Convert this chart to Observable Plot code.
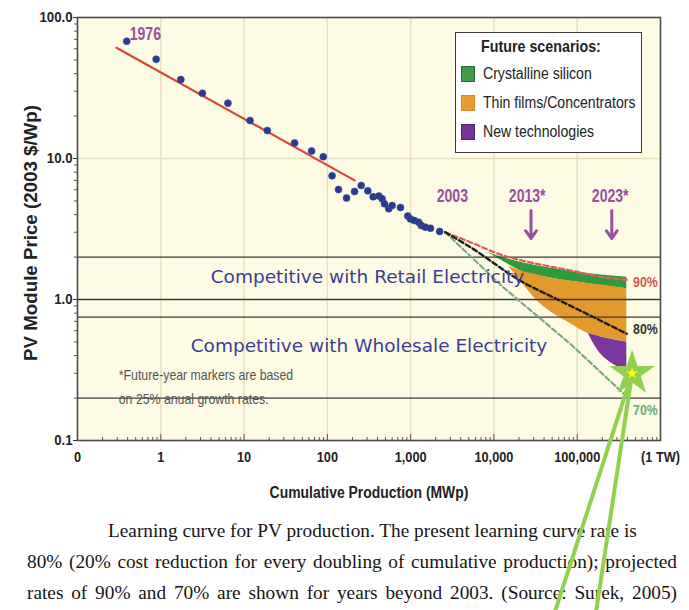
<!DOCTYPE html>
<html>
<head>
<meta charset="utf-8">
<script src="https://cdn.jsdelivr.net/npm/d3@7"></script>
<script src="https://cdn.jsdelivr.net/npm/@observablehq/plot@0.6"></script>
<style>
  html, body { margin: 0; padding: 0; background: #ffffff; }
  body { width: 689px; height: 610px; position: relative; overflow: hidden; }
  #chart { position: absolute; left: 0; top: 0; z-index: 2; }
  #chart svg { overflow: visible; }
  #legend { position: absolute; left: 455px; top: 32px; width: 187px; height: 121px; box-sizing: border-box;
            border: 1.6px solid #3c3c3c; background: #fff; z-index: 3;
            font-family: 'Liberation Sans Narrow', 'Arial Narrow', 'Liberation Sans', Arial, sans-serif; color: #222; }
  #legend .cond { display: inline-block; transform-origin: left center; white-space: nowrap; }
  #caption { position: absolute; left: 27px; top: 515px; width: 650px; z-index: 1;
             font-family: 'Liberation Serif', 'Times New Roman', serif; font-size: 19.3px; line-height: 31px; color: #151515; }
  #caption .l1 { padding-left: 81px; white-space: nowrap; }
  #caption .lj { text-align: justify; text-align-last: justify; }
</style>
</head>
<body>
<div id="chart"></div>
<div id="legend"></div>
<div id="caption"></div>
<script>
// ---------- data ----------
const xTicks = [0.1, 1, 10, 100, 1000, 10000, 100000, 1000000];
const xTickLabels = ["0", "1", "10", "100", "1,000", "10,000", "100,000", "(1 TW)"];
const yTicks = [0.1, 1, 10, 100];
const yTickLabels = ["0.1", "1.0", "10.0", "100.0"];
const gridDecadesX = [1, 10, 100, 1000, 10000, 100000];
const gridDecadesY = [10];

// historical module prices (cumulative MWp, 2003 $/Wp)
const histX = [0.39, 0.88, 1.74, 3.16, 6.4, 11.8, 19.0, 40.4, 64.7, 89.3, 114, 136, 170, 212, 255, 306, 355, 415, 455, 485, 546, 600, 755, 923, 995, 1110, 1250, 1340, 1500, 1730, 2230];
const histY = [67.9, 50.6, 36.3, 29.0, 24.7, 18.6, 15.8, 12.9, 11.3, 10.3, 7.54, 6.03, 5.25, 5.83, 6.44, 5.90, 5.35, 5.42, 5.18, 4.77, 4.40, 4.64, 4.49, 3.91, 3.73, 3.63, 3.53, 3.35, 3.26, 3.20, 3.04];

// 80% learning-curve fit
const fitX = [0.294, 212];
const fitY = [61.0, 7.0];

// projections beyond 2003
const proj90X = [2600, 5210, 12970, 32900, 82400, 205000, 394000];
const proj90Y = [3.0, 2.55, 2.05, 1.79, 1.61, 1.44, 1.38];
const proj80X = [2600, 5210, 20700, 62500, 172000, 394000];
const proj80Y = [3.0, 2.35, 1.36, 0.98, 0.73, 0.571];
const proj70X = [2600, 12970, 82400, 394000];
const proj70Y = [3.0, 1.22, 0.485, 0.205];

// future scenario bands
const greenX = [6500, 9060, 12970, 20700, 51500, 130700, 394000];
const greenTop = [2.28, 2.12, 1.98, 1.84, 1.66, 1.53, 1.44];
const greenBottom = [2.28, 2.1, 1.86, 1.60, 1.41, 1.30, 1.19];
const orangeX = [15000, 20700, 32900, 51500, 82400, 135500, 205000, 394000];
const orangeTop = [1.72, 1.60, 1.50, 1.41, 1.35, 1.30, 1.26, 1.19];
const orangeBottom = [1.72, 1.36, 0.98, 0.796, 0.676, 0.574, 0.54, 0.498];
const purpleX = [135500, 150000, 189000, 249000, 394000];
const purpleTop = [0.574, 0.565, 0.545, 0.525, 0.498];
const purpleBottom = [0.574, 0.512, 0.414, 0.359, 0.313];

// market thresholds
const marketLevels = [2, 1, 0.75, 0.2];
const marketLabels = ["Competitive with Retail Electricity", "Competitive with Wholesale Electricity"];
const marketLabelX = [303, 316];
const marketLabelY = [1.44, 0.464];

// year markers
const yearLabels = ["1976", "2003", "2013*", "2023*"];
const yearLabelX = [0.652, 3170, 25100, 249000];
const yearLabelY = [77, 5.47, 5.47, 5.47];
const arrowX = [27900, 260000];
const arrowFromY = 4.28;
const arrowToY = 2.71;

// learning-rate labels
const rateLabels = ["90%", "80%", "70%"];
const rateLabelX = [469000, 469000, 469000];
const rateLabelY = [1.32, 0.613, 0.163];
const rateColors = ["#d9534f", "#333333", "#6fae6f"];

// footnote
const footnoteLines = ["*Future-year markers are based", "on 25% anual growth rates."];
const footnoteX = [0.313, 0.313];
const footnoteY = [0.289, 0.195];

// legend
const legendTitle = "Future scenarios:";
const scenarioNames = ["Crystalline silicon", "Thin films/Concentrators", "New technologies"];
const scenarioColors = ["#3d9e45", "#eb9a2e", "#7a3399"];
const scenarioBorders = ["#2a6a2e", "#c98a3a", "#4e2266"];

// titles and caption
const xTitle = "Cumulative Production (MWp)";
const yTitle = "PV Module Price (2003 $/Wp)";
const captionLines = [
  "Learning curve for PV production. The present learning curve rate is",
  "80% (20% cost reduction for every doubling of cumulative production); projected",
  "rates of 90% and 70% are shown for years beyond 2003. (Source: Surek, 2005)"
];

// highlight annotation (lime star with pointer lines)
const starX = 456000, starY = 0.299;
const pointerEndX = [54500, 169000];
const pointerEndY = [0.0062, 0.0062];

// ---------- helpers ----------
const NARROW = "'Liberation Sans Narrow', 'Arial Narrow', 'Liberation Sans', Arial, sans-serif";
const idx = a => d3.range(a.length);
const minorX = [];
for (const d of [0.1, 1, 10, 100, 1000, 10000, 100000]) for (let k = 2; k <= 9; k++) minorX.push(d * k);
const minorY = [];
for (const d of [0.1, 1, 10]) for (let k = 2; k <= 9; k++) minorY.push(d * k);
const tickUp = {draw(ctx, l) { ctx.moveTo(0, 0); ctx.lineTo(0, -l); }};
const purple = "#95509f";

const chart = Plot.plot({
  width: 689, height: 505,
  marginLeft: 77, marginRight: 29, marginTop: 17, marginBottom: 65,
  style: {fontFamily: NARROW, fontSize: "15px", background: "transparent", overflow: "visible", color: "#222"},
  x: {type: "log", domain: [0.1, 1e6]},
  y: {type: "log", domain: [0.1, 100]},
  marks: [
    Plot.frame({fill: "#fdfbe4", stroke: null}),
    Plot.gridX(gridDecadesX, {stroke: "#e8e0bd", strokeOpacity: 1, strokeWidth: 1.5}),
    Plot.gridY(gridDecadesY, {stroke: "#e8e0bd", strokeOpacity: 1, strokeWidth: 1.5}),
    // bands
    Plot.areaY(idx(greenX), {x: greenX, y1: greenBottom, y2: greenTop, fill: "#2f9a3c", curve: "monotone-x"}),
    Plot.areaY(idx(orangeX), {x: orangeX, y1: orangeBottom, y2: orangeTop, fill: "#e39a2d", curve: "monotone-x"}),
    Plot.areaY(idx(purpleX), {x: purpleX, y1: purpleBottom, y2: purpleTop, fill: "#7a379e", curve: "monotone-x"}),
    // market thresholds
    Plot.ruleY(marketLevels, {stroke: "#3a3a3a", strokeWidth: 1.3}),
    // fit & projections
    Plot.line(idx(fitX), {x: fitX, y: fitY, stroke: "#d8473a", strokeWidth: 2.2}),
    Plot.line(idx(proj70X), {x: proj70X, y: proj70Y, stroke: "#7fa882", strokeWidth: 2.2, strokeDasharray: "5,3"}),
    Plot.line(idx(proj90X), {x: proj90X, y: proj90Y, stroke: "#d9605a", strokeWidth: 2.2, strokeDasharray: "5,3", curve: "monotone-x"}),
    Plot.line(idx(proj80X), {x: proj80X, y: proj80Y, stroke: "#1e1e1e", strokeWidth: 2.4, strokeDasharray: "5,3", curve: "monotone-x"}),
    // historical dots
    Plot.dot(idx(histX), {x: histX, y: histY, r: 3.5, fill: "#2a3a8e", stroke: "#3d4c9a", strokeWidth: 0.6}),
    // texts
    Plot.text(idx(marketLabels), {x: marketLabelX, y: marketLabelY, text: marketLabels,
      fontFamily: "'DejaVu Sans', Verdana, sans-serif", fontSize: 18.5, fill: "#3b3d94"}),
    Plot.text(idx(footnoteLines), {x: footnoteX, y: footnoteY, text: footnoteLines, textAnchor: "start",
      fontFamily: NARROW, fontSize: 14, fill: "#555"}),
    Plot.text(idx(yearLabels), {x: yearLabelX, y: yearLabelY, text: yearLabels,
      fontFamily: NARROW, fontSize: 19, fontWeight: "bold", fill: purple}),
    Plot.arrow(arrowX, {x1: d => d, x2: d => d, y1: arrowFromY, y2: arrowToY, stroke: purple, strokeWidth: 3, headLength: 11, headAngle: 70}),
    Plot.text(idx(rateLabels), {x: rateLabelX, y: rateLabelY, text: rateLabels, textAnchor: "start",
      fontFamily: NARROW, fontSize: 14, fontWeight: "bold", fill: rateColors}),
    // axes
    Plot.axisY(yTicks, {tickSize: 4, tickPadding: 1, tickFormat: d => yTickLabels[yTicks.indexOf(d)],
      fontFamily: NARROW, fontSize: 15, fontWeight: "bold", stroke: "#333", label: null}),
    Plot.axisY(minorY, {tickSize: 3, tickFormat: () => "", stroke: "#555", label: null}),
    Plot.axisX(xTicks, {tickSize: 0, tickPadding: 11, tickFormat: d => xTickLabels[xTicks.indexOf(d)],
      fontFamily: NARROW, fontSize: 15, fontWeight: "bold", label: null}),
    Plot.vector(minorX, {x: d => d, frameAnchor: "bottom", length: 3, anchor: "start", shape: tickUp, stroke: "#555", strokeWidth: 1}),
    Plot.vector(gridDecadesX, {x: d => d, frameAnchor: "bottom", length: 6, anchor: "start", shape: tickUp, stroke: "#555", strokeWidth: 1}),
    Plot.text([xTitle], {frameAnchor: "bottom", dy: 52, lineAnchor: "middle", textAnchor: "middle",
      fontFamily: NARROW, fontSize: 17, fontWeight: "bold", fill: "#222"}),
    Plot.text([yTitle], {frameAnchor: "left", dx: -46, dy: 4, rotate: -90, textAnchor: "middle", lineAnchor: "middle",
      fontFamily: "'Liberation Sans', Arial, sans-serif", fontSize: 18, fontWeight: "bold", fill: "#222"}),
    Plot.frame({stroke: "#4a4a4a", strokeWidth: 1.6}),
    // highlight annotation
    Plot.link(idx(pointerEndX), {x1: starX, y1: starY, x2: pointerEndX, y2: pointerEndY, stroke: "#92d050", strokeWidth: 4}),
    Plot.dot([0], {x: starX, y: starY, symbol: "star", r: 14.3, fill: "#92d050"}),
    Plot.dot([0], {x: starX, y: starY, symbol: "star", r: 3.6, fill: "#ffff00"})
  ]
});
document.getElementById("chart").append(chart);

// stretch/condense texts along their writing direction, around their anchor points
function scaleText(el, s) {
  const tr = el.getAttribute("transform");
  if (tr) {
    el.setAttribute("transform", tr + ` scale(${s},1)`);
  } else {
    const xv = parseFloat(el.getAttribute("x")) || 0;
    el.removeAttribute("x");
    el.setAttribute("transform", `translate(${xv},0) scale(${s},1)`);
  }
}
function condenseTexts(strings, s) {
  const set = new Set(strings);
  chart.querySelectorAll("text").forEach(el => { if (set.has(el.textContent)) scaleText(el, s); });
}
condenseTexts(yTickLabels, 0.88);
condenseTexts(xTickLabels, 0.85);
condenseTexts(yearLabels, 0.74);
condenseTexts(rateLabels, 0.88);
condenseTexts(footnoteLines, 0.88);
condenseTexts([xTitle], 0.82);
condenseTexts([yTitle], 1.04);

// legend
document.getElementById("legend").innerHTML =
  `<div style="position:absolute;left:25px;top:4px;font-weight:bold;font-size:17px;line-height:20px"><span class="cond" style="transform:scaleX(0.84)">${legendTitle}</span></div>` +
  scenarioNames.map((n, i) =>
    `<div style="position:absolute;left:5px;top:${31 + i * 29}px;height:20px;display:flex;align-items:center;font-size:16px;white-space:nowrap">` +
    `<span style="display:inline-block;width:12px;height:14px;background:${scenarioColors[i]};border:1px solid ${scenarioBorders[i]};margin-right:8px"></span>` +
    `<span class="cond" style="transform:scaleX(0.88)">${n}</span></div>`
  ).join("");

// caption
document.getElementById("caption").innerHTML = captionLines.map((t, i) =>
  `<div class="${i === 0 ? "l1" : "lj"}">${t}</div>`).join("");
</script>
</body>
</html>
